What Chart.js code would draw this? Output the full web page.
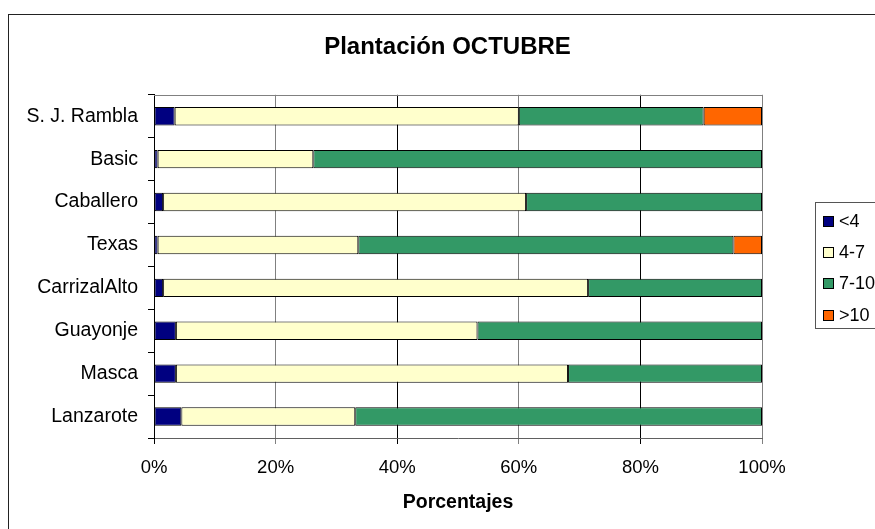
<!DOCTYPE html>
<html><head><meta charset="utf-8">
<script src="https://cdn.jsdelivr.net/npm/chart.js@4"></script>
<style>html,body{margin:0;padding:0;background:#fff;overflow:hidden}canvas{display:block}</style>
</head><body>
<canvas id="c" width="875" height="529"></canvas>
<script>
const categories = ['S. J. Rambla','Basic','Caballero','Texas','CarrizalAlto','Guayonje','Masca','Lanzarote'];
const seriesNames = ['<4','4-7','7-10','>10'];
const lt4   = [3.4, 0.6, 1.5, 0.6, 1.5, 3.6, 3.6, 4.5];
const r4_7  = [56.6, 25.6, 59.7, 33.0, 69.9, 49.6, 64.5, 28.6];
const r7_10 = [30.4, 73.8, 38.8, 61.7, 28.6, 46.8, 31.9, 66.9];
const gt10  = [9.6, null, null, 4.7, null, null, null, null];
const xTickValues = [0, 20, 40, 60, 80, 100];
const chartTitle = 'Plantación OCTUBRE';
const xTitle = 'Porcentajes';

const FONT = '"Liberation Sans", Arial, sans-serif';
const colors = ['#000080', '#FFFFCC', '#339966', '#FF6600'];
const seriesData = [lt4, r4_7, r7_10, gt10];

const frame = {
  id: 'frame',
  beforeDraw(chart) {
    const ctx = chart.ctx;
    ctx.save();
    ctx.fillStyle = '#fff';
    ctx.fillRect(0, 0, chart.width, chart.height);
    ctx.strokeStyle = '#222';
    ctx.lineWidth = 1;
    ctx.strokeRect(8.5, 14.5, chart.width + 40, chart.height + 40);
    ctx.restore();
  },
  beforeDatasetsDraw(chart) {
    const ctx = chart.ctx, ca = chart.chartArea;
    ctx.save();
    ctx.strokeStyle = '#808080';
    ctx.lineWidth = 1;
    ctx.beginPath();
    ctx.moveTo(ca.left, Math.round(ca.top) + 0.5);
    ctx.lineTo(ca.right, Math.round(ca.top) + 0.5);
    ctx.stroke();
    ctx.restore();
  }
};

const customLegend = {
  id: 'customLegend',
  afterDraw(chart) {
    const ctx = chart.ctx;
    const x0 = 815.5, y0 = 202.5;
    ctx.save();
    ctx.strokeStyle = '#555';
    ctx.lineWidth = 1;
    ctx.strokeRect(x0, y0, 120, 126);
    ctx.font = '18px ' + FONT;
    ctx.textBaseline = 'middle';
    ctx.textAlign = 'left';
    chart.data.datasets.forEach((ds, i) => {
      const cy = 220.7 + i * 31.3;
      const top = Math.round(cy - 5);
      ctx.fillStyle = ds.backgroundColor;
      ctx.fillRect(823, top, 10, 10);
      ctx.strokeStyle = '#000';
      ctx.strokeRect(823.5, top + 0.5, 10, 10);
      ctx.fillStyle = '#000';
      ctx.fillText(ds.label, 839, cy + 1);
    });
    ctx.restore();
  }
};

new Chart(document.getElementById('c'), {
  type: 'bar',
  data: {
    labels: categories,
    datasets: seriesNames.map((name, i) => ({
      label: name,
      data: seriesData[i],
      backgroundColor: colors[i],
      borderColor: '#000',
      borderWidth: 1,
      borderSkipped: false,
      barPercentage: 0.43,
      categoryPercentage: 1
    }))
  },
  options: {
    indexAxis: 'y',
    responsive: false,
    animation: false,
    devicePixelRatio: 1,
    layout: { padding: { left: 20, right: 0, top: 0, bottom: 0 } },
    plugins: {
      legend: { display: false },
      tooltip: { enabled: false },
      title: {
        display: true,
        text: chartTitle,
        color: '#000',
        font: { family: FONT, size: 24, weight: 'bold' },
        padding: { top: 32.5, bottom: 33.5 }
      }
    },
    scales: {
      x: {
        stacked: true,
        min: 0, max: 100,
        afterBuildTicks(scale) { scale.ticks = xTickValues.map(v => ({ value: v })); },
        afterFit(scale) { scale.height = 91; },
        grid: {
          color: c => (c.index % 2 === 1 ? '#808080' : '#000'),
          tickLength: 6,
          lineWidth: 1
        },
        border: { color: '#606060' },
        ticks: {
          color: '#000',
          padding: 13,
          font: { family: FONT, size: 18.5 },
          callback: v => v + '%'
        },
        title: {
          display: true,
          text: xTitle,
          color: '#000',
          font: { family: FONT, size: 19.5, weight: 'bold' },
          padding: { top: 0, bottom: 15 }
        }
      },
      y: {
        stacked: true,
        afterFit(scale) { scale.width = 134; },
        grid: {
          drawOnChartArea: false,
          offset: true,
          tickLength: 6,
          color: '#000'
        },
        border: { color: '#000' },
        ticks: {
          color: '#000',
          padding: 10,
          font: { family: FONT, size: 19.5 }
        }
      },
      ySpace: {
        type: 'category',
        position: 'right',
        afterFit(scale) { scale.width = 113; },
        grid: { display: false },
        border: { display: false },
        ticks: { display: false }
      }
    }
  },
  plugins: [frame, customLegend]
});
</script>
</body></html>
